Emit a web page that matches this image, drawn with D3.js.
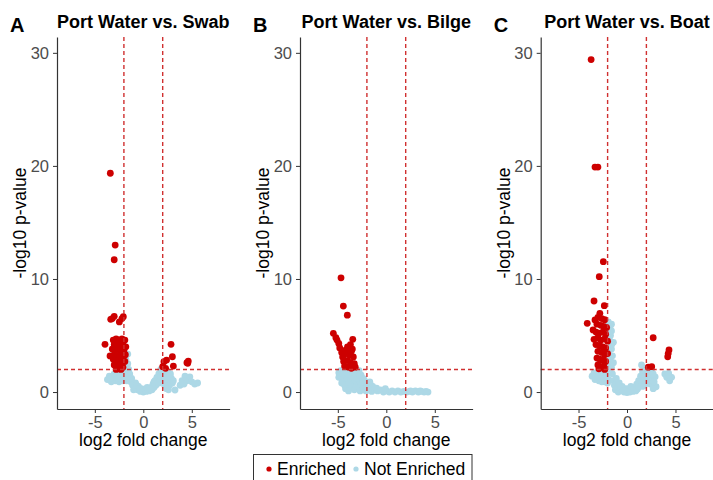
<!DOCTYPE html>
<html>
<head>
<meta charset="utf-8">
<script src="https://cdn.jsdelivr.net/npm/d3@7"></script>
<style>
  body { margin: 0; background: #fff; }
  text { font-family: "Liberation Sans", Arial, sans-serif; }
</style>
</head>
<body>
<div id="chart"></div>
<script>
// Data: [log2 fold change, -log10 p-value]
var redA = [[-3.4,19.35],[-2.9,13.0],[-3.0,11.7],
  [-3.36,6.43],[-3.0,6.7],[-2.47,6.2],[-2.06,6.66],[-3.2,6.5],[-2.2,6.5],
  [-3.95,4.22],[-3.43,3.19],
  [-3.1,4.6],[-2.8,4.7],[-2.5,4.6],[-2.2,4.7],[-1.9,4.6],[-3.0,4.2],[-2.7,4.3],[-2.4,4.1],[-2.1,4.2],[-1.8,4.0],
  [-3.2,3.8],[-2.9,3.7],[-2.6,3.8],[-2.3,3.6],[-2.0,3.7],[-3.0,3.3],[-2.7,3.2],[-2.4,3.3],[-2.1,3.1],[-1.85,3.3],
  [-3.1,2.9],[-2.8,2.8],[-2.5,2.7],[-2.2,2.8],[-1.9,2.7],[-3.0,2.4],[-2.7,2.3],[-2.4,2.4],[-2.1,2.2],
  [-2.8,2.0],[-2.5,2.05],[-2.3,2.0],
  [2.86,4.22],[3.0,3.12],[2.13,2.68],[2.4,2.83],[3.1,2.3],[2.0,2.24],[2.3,2.1],[4.64,2.74],[4.58,2.54],[4.5,2.6]];
var blueA = [[-3.7,1.1],[-3.5,1.4],[-3.3,0.9],[-3.1,1.3],[-2.9,1.0],[-2.7,1.5],[-2.5,0.9],[-2.3,1.3],[-2.1,1.0],
  [-1.9,1.4],[-1.7,1.0],[-1.5,1.2],[-3.0,1.6],[-2.4,1.7],[-2.0,1.8],
  [-1.7,2.1],[-1.6,2.5],[-1.8,2.9],[-1.6,3.36],[-1.5,2.0],[-1.4,1.6],[-1.9,2.4],
  [-1.3,0.9],[-1.1,0.6],[-1.2,1.2],[-0.9,0.4],[-0.8,0.8],[-0.6,0.2],[-0.5,0.5],[-0.3,0.05],[-0.2,0.3],[0,0],
  [0.1,0.25],[0.3,0.05],[0.5,0.3],[0.6,0.1],[0.8,0.4],[0.9,0.2],[1.0,0.7],[1.1,0.4],[1.2,1.0],[1.3,0.6],[1.4,1.3],[1.5,0.9],
  [1.6,1.6],[1.7,1.2],[1.8,2.0],[1.9,1.5],[2.0,1.0],[2.1,1.8],[2.2,0.6],[2.3,1.4],[2.5,1.0],[2.6,1.7],[2.7,0.6],
  [2.9,1.2],[3.0,0.8],[3.27,0.18],[2.4,0.3],
  [-1.0,0.2],[-0.7,0.6],[-0.4,0.3],[0.2,0.15],[0.4,0.4],[0.7,0.3],[1.1,0.9],[1.6,0.8],[1.8,1.4],[2.0,1.5],
  [2.2,2.0],[2.4,1.9],[2.8,1.6],[3.1,1.0],[2.6,0.2],[-3.4,1.2],[-2.6,1.2],[-2.2,1.6],[-1.8,1.7],
  [3.8,0.6],[4.0,1.0],[4.3,1.4],[4.5,1.0],[4.8,1.35],[5.0,0.9],[5.3,0.7],[5.6,0.8],[4.2,0.7]];

var redB = [[-4.67,10.1],[-4.43,7.6],[-4.02,6.8],
  [-5.46,5.19],[-5.2,4.8],[-5.08,4.6],[-4.9,4.3],[-3.46,4.66],
  [-4.8,3.9],[-4.6,3.5],[-4.5,3.1],[-4.4,2.7],[-4.3,2.3],[-4.0,4.0],[-3.7,4.2],[-3.5,3.8],[-4.1,3.4],[-3.8,3.3],
  [-3.4,3.1],[-4.0,2.8],[-3.7,2.6],[-3.3,2.5],[-3.9,2.2],[-3.6,2.1],[-3.2,2.2],[-4.2,3.7],[-3.6,3.6]];
var blueB = [[-4.9,1.7],[-4.9,1.3],[-4.7,1.9],[-4.6,1.5],[-4.5,1.1],[-4.3,1.8],[-4.2,1.4],[-4.1,1.0],[-3.9,1.9],
  [-3.8,1.5],[-3.7,1.1],[-3.6,0.8],[-3.5,1.8],[-3.4,1.3],[-3.2,1.0],[-3.1,1.6],[-3.0,0.7],[-2.9,1.3],[-2.8,1.9],
  [-2.7,1.0],[-2.6,1.5],[-2.5,0.7],[-2.3,1.1],[-2.2,0.6],[-2.0,0.8],[-1.8,0.5],
  [-4.8,1.5],[-4.4,1.6],[-4.0,1.6],[-3.6,1.4],[-3.3,1.7],[-3.0,1.2],[-2.7,1.5],[-4.6,0.8],[-4.3,0.6],[-3.9,0.7],
  [-2.4,1.2],[-2.1,0.9],[-1.6,0.6],[-1.4,0.5],[-1.7,0.9],
  [-4.2,0.3],[-3.9,0.1],[-3.6,0.4],[-3.3,0.2],[-3.0,0.4],[-2.7,0.1],[-2.4,0.3],[-2.1,0.1],[-1.8,0.2],[-1.5,0.05],
  [-1.2,0.3],[-0.9,0.1],[-0.6,0.2],[-0.3,0.0],[0,0.1],[0.3,0.0],[0.6,0.1],[0.9,0.0],[1.2,0.1],[1.5,0.0],[1.8,0.05],
  [2.1,0.0],[2.4,0.05],[2.7,0.0],[3.0,0.1],[3.3,0.0],[3.6,0.05],[3.9,0.0],[4.3,0.0],[4.1,0.05],[3.5,0.1],[2.5,0.1],
  [-0.1,0.3],[-1.0,0.35],[-2.0,0.4]];

var redC = [[-3.7,29.4],[-3.3,19.9],[-3.0,19.9],[-2.44,11.53],[-2.86,10.2],[-3.4,8.05],[-2.34,7.64],[-4.1,6.08],
  [-2.8,6.96],[-3.3,6.37],[-3.5,5.49],[-3.4,4.66],
  [-3.0,6.6],[-2.6,6.5],[-2.3,6.4],[-3.1,6.0],[-2.7,5.9],[-2.4,5.8],[-2.1,5.7],[-3.2,5.3],[-2.9,5.2],[-2.5,5.3],
  [-2.2,5.1],[-3.0,4.8],[-2.7,4.6],[-2.3,4.7],[-2.0,4.5],[-3.2,4.2],[-2.8,4.1],[-2.5,4.0],[-2.2,3.9],[-3.0,3.6],
  [-2.6,3.5],[-2.3,3.3],[-2.0,3.4],[-3.1,3.0],[-2.8,2.9],[-2.5,2.8],[-2.2,2.7],[-3.0,2.4],[-2.7,2.2],[-2.4,2.3],
  [-2.9,2.05],[-2.3,2.0],
  [2.7,4.8],[4.33,3.72],[4.2,3.12],[4.25,3.4],[2.55,2.24],[2.2,2.2]];
var blueC = [[-3.6,1.4],[-3.4,1.7],[-3.3,1.1],[-3.1,1.5],[-2.9,1.0],[-2.7,1.6],[-2.5,1.2],[-2.3,0.9],[-2.1,1.5],[-1.9,1.1],
  [-2.0,2.0],[-1.8,2.5],[-1.7,3.0],[-1.9,3.5],[-1.6,3.8],[-1.58,4.2],[-1.8,4.6],[-1.7,5.0],[-1.9,5.4],[-1.75,5.8],
  [-1.93,6.2],[-1.5,3.2],[-1.6,2.2],[-1.5,1.6],
  [-1.4,1.0],[-1.3,0.6],[-1.1,1.2],[-1.0,0.4],[-0.8,0.8],[-0.7,0.2],[-0.5,0.5],[-0.3,0.0],[-0.2,0.3],[0,-0.05],
  [0.1,0.3],[0.3,0.0],[0.5,0.3],[0.6,0.05],[0.8,0.4],[0.9,0.1],[1.0,0.7],[1.1,0.3],[1.2,1.0],[1.3,0.6],[1.4,1.4],
  [1.5,0.9],[1.5,2.4],[1.6,1.8],[1.7,1.2],[1.8,0.6],[1.9,1.5],[2.0,1.0],[2.1,2.0],[2.3,1.3],[2.4,0.7],[2.6,1.0],
  [2.9,1.35],[3.0,0.47],[2.7,0.3],
  [-1.2,0.2],[-0.9,0.0],[-0.6,0.4],[-0.4,0.1],[0.2,0.1],[0.4,0.5],[0.7,0.2],[1.0,0.2],[1.2,0.5],[1.6,0.5],
  [1.9,2.1],[2.2,1.6],[2.5,1.9],[2.7,1.6],[2.8,0.9],[-2.2,1.9],[-1.4,2.6],[-1.4,4.4],[-1.6,5.4],[-1.6,6.0],
  [-3.0,1.3],[-2.6,0.9],[-2.0,0.8],
  [3.9,1.6],[4.1,1.3],[4.3,1.65],[4.6,1.3],[4.4,1.0],[4.43,1.35]];

var titles = ["Port Water vs. Swab", "Port Water vs. Bilge", "Port Water vs. Boat"];
var tags = ["A", "B", "C"];
var xTicks = [-5, 0, 5];
var yTicks = [0, 10, 20, 30];
var fcCut = 2, pCut = 2;
var legendLabels = ["Enriched", "Not Enriched"];

var width = 713, height = 480;
var yTop = 37, yBottom = 409;
var panelX = [[57, 231], [300, 472.6], [540.7, 713.3]];
var colRed = "#CD0000", colBlue = "#ADD8E6", colLine = "#D03030";

var svg = d3.select("#chart").append("svg")
    .attr("width", width)
    .attr("height", height);

var yScale = d3.scaleLinear().domain([-1.5, 31.4]).range([yBottom, yTop]);

var panels = [[redA, blueA], [redB, blueB], [redC, blueC]];

panels.forEach(function(p, i) {
    var x0 = panelX[i][0], x1 = panelX[i][1];
    var xScale = d3.scaleLinear().domain([-8.9, 8.9]).range([x0, x0 + 172.6]);
    var g = svg.append("g");

    // Points.
    g.selectAll(".blue").data(p[1]).enter().append("circle")
        .attr("cx", function(d) { return xScale(d[0]); })
        .attr("cy", function(d) { return yScale(d[1]); })
        .attr("r", 3.4)
        .attr("fill", colBlue);
    g.selectAll(".red").data(p[0]).enter().append("circle")
        .attr("cx", function(d) { return xScale(d[0]); })
        .attr("cy", function(d) { return yScale(d[1]); })
        .attr("r", 3.4)
        .attr("fill", colRed);

    // Threshold lines.
    [-fcCut, fcCut].forEach(function(v) {
        g.append("line")
            .attr("x1", xScale(v)).attr("x2", xScale(v))
            .attr("y1", yTop).attr("y2", yBottom)
            .attr("stroke", colLine).attr("stroke-width", 1.4)
            .attr("stroke-dasharray", "4,3");
    });
    g.append("line")
        .attr("x1", x0).attr("x2", x1)
        .attr("y1", yScale(pCut)).attr("y2", yScale(pCut))
        .attr("stroke", colLine).attr("stroke-width", 1.4)
        .attr("stroke-dasharray", "4,3");

    // Axes.
    var ax = g.append("g")
        .attr("transform", "translate(" + x0 + ",0)")
        .call(d3.axisLeft(yScale).tickValues(yTicks).tickSize(4).tickPadding(4).tickSizeOuter(0));
    var bx = g.append("g")
        .attr("transform", "translate(0," + yBottom + ")")
        .call(d3.axisBottom(xScale).tickValues(xTicks).tickSize(4).tickPadding(3).tickSizeOuter(0)
            .tickFormat(function(d) { return d < 0 ? "-" + Math.abs(d) : d; }));
    [ax, bx].forEach(function(a) {
        a.select(".domain").attr("stroke", "#333").attr("stroke-width", 1.2);
        a.selectAll(".tick line").attr("stroke", "#333");
        a.selectAll(".tick text").attr("fill", "#4d4d4d").style("font-size", "16.5px");
    });

    // Titles.
    var cx = x0 + 172.6 / 2;
    g.append("text")
        .attr("x", cx).attr("y", 28)
        .attr("text-anchor", "middle")
        .style("font-size", "18px").style("font-weight", "bold")
        .text(titles[i]);
    g.append("text")
        .attr("x", x0 - 47).attr("y", 32)
        .style("font-size", "20px").style("font-weight", "bold")
        .text(tags[i]);
    g.append("text")
        .attr("transform", "translate(" + (x0 - 31) + "," + ((yTop + yBottom) / 2) + ") rotate(-90)")
        .attr("text-anchor", "middle")
        .style("font-size", "17.5px")
        .text("-log10 p-value");
    g.append("text")
        .attr("x", cx).attr("y", 446)
        .attr("text-anchor", "middle")
        .style("font-size", "17.5px")
        .text("log2 fold change");
});

// Legend.
var leg = svg.append("g");
leg.append("rect")
    .attr("x", 253.5).attr("y", 454.5)
    .attr("width", 218.5).attr("height", 40)
    .attr("fill", "none").attr("stroke", "#333").attr("stroke-width", 1);
var legX = [269, 356], legCol = [colRed, colBlue];
legendLabels.forEach(function(l, i) {
    leg.append("circle").attr("cx", legX[i]).attr("cy", 469).attr("r", 2.6).attr("fill", legCol[i]);
    leg.append("text").attr("x", legX[i] + 8).attr("y", 475)
        .style("font-size", "17.5px").text(l);
});
</script>
</body>
</html>
